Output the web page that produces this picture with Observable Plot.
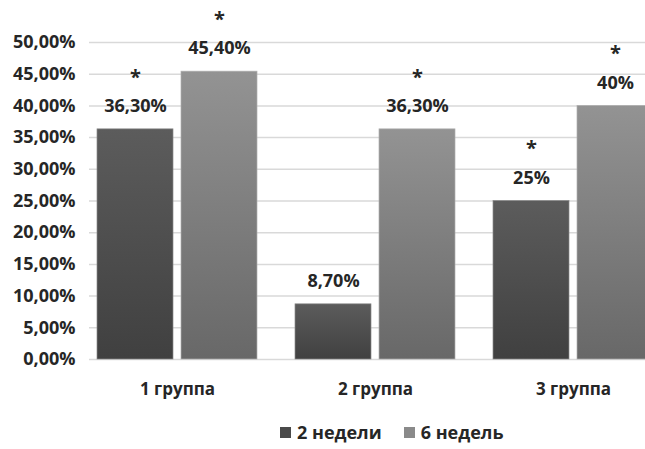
<!DOCTYPE html>
<html>
<head>
<meta charset="utf-8">
<script src="https://cdn.jsdelivr.net/npm/d3@7"></script>
<script src="https://cdn.jsdelivr.net/npm/@observablehq/plot@0.6"></script>
<style>
  body { margin: 0; background: #fff; font-family: "Open Sans", sans-serif; }
  #legend { display: flex; align-items: center; height: 54px; margin-left: 280px; font-weight: bold; font-size: 18px; color: #262626; }
  .item { display: flex; align-items: center; margin-right: 22px; }
  .sw { width: 11px; height: 11px; margin-right: 6px; }
</style>
</head>
<body>
<div id="chart"></div>
<div id="legend"></div>
<script>
const groups = ["1 группа", "2 группа", "3 группа"];
const seriesNames = ["2 недели", "6 недель"];
const weeks2 = [36.3, 8.7, 25];
const weeks6 = [45.4, 36.3, 40];
const labels2 = ["36,30%", "8,70%", "25%"];
const labels6 = ["45,40%", "36,30%", "40%"];
const stars2 = ["*", "", "*"];
const stars6 = ["*", "*", "*"];
const yTicks = [0, 5, 10, 15, 20, 25, 30, 35, 40, 45, 50];

const d2 = groups.map((g, i) => ({group: g, value: weeks2[i], label: labels2[i], star: stars2[i]}));
const d6 = groups.map((g, i) => ({group: g, value: weeks6[i], label: labels6[i], star: stars6[i]}));

const fmt = d => d.toFixed(2).replace(".", ",") + "%";
const textColor = "#262626";

const plot = Plot.plot({
  width: 645,
  height: 405,
  marginLeft: 89,
  marginRight: 0,
  marginTop: 42,
  marginBottom: 46,
  style: {fontFamily: "Open Sans", background: "#fff"},
  x: {domain: groups, range: [78, 672], paddingInner: 38 / 198, paddingOuter: 19 / 198, label: null},
  y: {domain: [0, 50], label: null},
  marks: [
    Plot.ruleY(yTicks, {stroke: "#d9d9d9", strokeWidth: 1.5}),
    Plot.barY(d2, {x: "group", y: "value", insetRight: 84, fill: "url(#gDark)", stroke: "#8a8a8a", strokeWidth: 0.7}),
    Plot.barY(d6, {x: "group", y: "value", insetLeft: 84, fill: "url(#gLight)", stroke: "#b0b0b0", strokeWidth: 0.7}),
    Plot.text(d2, {x: "group", y: "value", text: "label", dx: -42, dy: -23, fontSize: 18, fontWeight: "bold", fill: textColor}),
    Plot.text(d6, {x: "group", y: "value", text: "label", dx: 42, dy: -23, fontSize: 18, fontWeight: "bold", fill: textColor}),
    Plot.text(d2, {x: "group", y: "value", text: "star", dx: -42, dy: -52, fontSize: 20, fontWeight: "bold", fill: textColor}),
    Plot.text(d6, {x: "group", y: "value", text: "star", dx: 42, dy: -52, fontSize: 20, fontWeight: "bold", fill: textColor}),
    Plot.axisY(yTicks, {tickSize: 0, tickPadding: 14, tickFormat: fmt, fontSize: 18, fontWeight: "bold", fill: textColor, label: null}),
    Plot.axisX({tickSize: 0, tickPadding: 23, fontSize: 17, fontWeight: "bold", fill: textColor, label: null})
  ]
});

const ns = "http://www.w3.org/2000/svg";
const defs = document.createElementNS(ns, "defs");
function grad(id, top, bottom) {
  const lg = document.createElementNS(ns, "linearGradient");
  lg.setAttribute("id", id);
  lg.setAttribute("x1", "0"); lg.setAttribute("y1", "0");
  lg.setAttribute("x2", "0"); lg.setAttribute("y2", "1");
  [[0, top], [1, bottom]].forEach(([o, c]) => {
    const s = document.createElementNS(ns, "stop");
    s.setAttribute("offset", o);
    s.setAttribute("stop-color", c);
    lg.appendChild(s);
  });
  defs.appendChild(lg);
}
grad("gDark", "#5c5c5c", "#404040");
grad("gLight", "#939393", "#686868");
plot.insertBefore(defs, plot.firstChild);
document.getElementById("chart").appendChild(plot);

const legend = document.getElementById("legend");
const swatch = ["#4a4a4a", "#8a8a8a"];
seriesNames.forEach((n, i) => {
  const it = document.createElement("div");
  it.className = "item";
  it.innerHTML = `<span class="sw" style="background:${swatch[i]}"></span><span>${n}</span>`;
  legend.appendChild(it);
});
</script>
</body>
</html>
